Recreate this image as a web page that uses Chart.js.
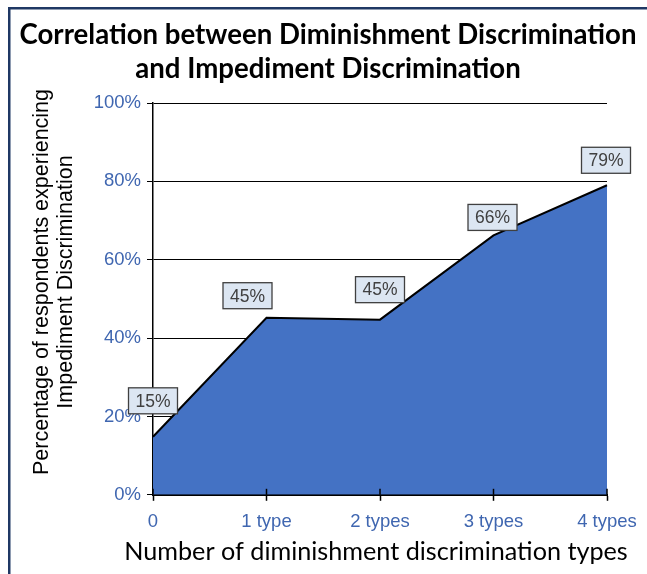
<!DOCTYPE html>
<html>
<head>
<meta charset="utf-8">
<script src="https://cdn.jsdelivr.net/npm/chart.js@4.4.1/dist/chart.umd.min.js"></script>
<style>
  html, body { margin: 0; background: #fff; overflow: hidden; }
  #wrap { position: absolute; left: 0; top: 0; width: 647px; height: 574px; }
</style>
</head>
<body>
<div id="wrap"><canvas id="chart"></canvas></div>
<script>
// Data
const categories = ['0', '1 type', '2 types', '3 types', '4 types'];
const impedimentShare = [14.8, 45.2, 44.7, 66.2, 79.0];
const valueLabels = ['15%', '45%', '45%', '66%', '79%'];
const yTicks = [0, 20, 40, 60, 80, 100];
const chartTitle = ['Correlation between Diminishment Discrimination', 'and Impediment Discrimination'];
const xTitle = 'Number of diminishment discrimination types';
const yTitle = ['Percentage of respondents experiencing', 'Impediment Discrimination'];

// label box offsets from each point (px)
const labelShift = [[0, -36], [-19, -22], [0, -30], [-1, -18], [-1, -25]];

// outer frame (only top and left edges show in the crop)
const frame = {
  id: 'frame',
  beforeDraw(chart) {
    const ctx = chart.ctx;
    ctx.save();
    ctx.strokeStyle = '#1f3864';
    ctx.lineWidth = 2.5;
    ctx.beginPath();
    ctx.moveTo(9.25, chart.height);
    ctx.lineTo(9.25, 8.25);
    ctx.lineTo(chart.width, 8.25);
    ctx.stroke();
    ctx.restore();
  }
};

// titles drawn by hand so the canvas does not squeeze them
const titles = {
  id: 'titles',
  afterDraw(chart) {
    const ctx = chart.ctx;
    ctx.save();
    ctx.fillStyle = '#000';
    ctx.textAlign = 'center';
    ctx.textBaseline = 'middle';
    ctx.font = 'bold 27.6px Lato, sans-serif';
    ctx.fillText(chartTitle[0], 328, 35);
    ctx.fillText(chartTitle[1], 328, 69);
    ctx.font = '25.2px Lato, sans-serif';
    ctx.fillText(xTitle, 376, 552);
    ctx.font = '21.5px "Liberation Sans", Arial, sans-serif';
    ctx.translate(0, 282);
    ctx.rotate(-Math.PI / 2);
    ctx.fillText(yTitle[0], 0, 42);
    ctx.fillText(yTitle[1], 0, 66);
    ctx.restore();
  }
};

const boxLabels = {
  id: 'boxLabels',
  afterDatasetsDraw(chart) {
    const ctx = chart.ctx;
    const meta = chart.getDatasetMeta(0);
    ctx.save();
    ctx.font = '17.5px "Liberation Sans", Arial, sans-serif';
    ctx.textAlign = 'center';
    ctx.textBaseline = 'middle';
    meta.data.forEach((pt, i) => {
      const cx = pt.x + labelShift[i][0];
      const cy = pt.y + labelShift[i][1];
      const w = 49, h = 26;
      ctx.fillStyle = '#dce6f2';
      ctx.fillRect(cx - w / 2, cy - h / 2, w, h);
      ctx.strokeStyle = '#404040';
      ctx.lineWidth = 1.3;
      ctx.strokeRect(cx - w / 2, cy - h / 2, w, h);
      ctx.fillStyle = '#404040';
      ctx.fillText(valueLabels[i], cx, cy + 1);
    });
    // x ticks crossing into the plot
    const xs = chart.scales.x;
    const bottom = chart.chartArea.bottom;
    ctx.strokeStyle = '#000';
    ctx.lineWidth = 1.5;
    categories.forEach((c, i) => {
      const x = xs.getPixelForValue(i);
      ctx.beginPath();
      ctx.moveTo(x, bottom - 6);
      ctx.lineTo(x, bottom);
      ctx.stroke();
    });
    ctx.restore();
  }
};

new Chart(document.getElementById('chart'), {
  type: 'line',
  data: {
    labels: categories,
    datasets: [{
      data: impedimentShare,
      fill: 'origin',
      backgroundColor: '#4472c4',
      borderColor: '#000',
      borderWidth: 2,
      pointRadius: 0,
      tension: 0
    }]
  },
  options: {
    responsive: true,
    maintainAspectRatio: false,
    animation: false,
    layout: { padding: { left: 0, right: 40, top: 103, bottom: 31 } },
    plugins: {
      legend: { display: false },
      tooltip: { enabled: false },
      title: { display: false }
    },
    scales: {
      x: {
        offset: false,
        grid: { drawOnChartArea: false, color: '#000', tickLength: 6, tickWidth: 1.5 },
        border: { color: '#000', width: 2 },
        ticks: {
          color: '#3f66b0', padding: 10,
          maxRotation: 0,
          font: { family: '"Liberation Sans", Arial, sans-serif', size: 18.5 }
        }
      },
      y: {
        min: 0, max: 100,
        afterFit(scale) { scale.width = 153; },
        afterBuildTicks(scale) { scale.ticks = yTicks.map(v => ({ value: v })); },
        grid: { color: '#000', lineWidth: 1, tickLength: 6 },
        border: { color: '#000', width: 1.5 },
        ticks: {
          color: '#3f66b0', padding: 6,
          callback: v => v + '%',
          font: { family: '"Liberation Sans", Arial, sans-serif', size: 18.5 }
        }
      }
    }
  },
  plugins: [frame, boxLabels, titles]
});
</script>
</body>
</html>
